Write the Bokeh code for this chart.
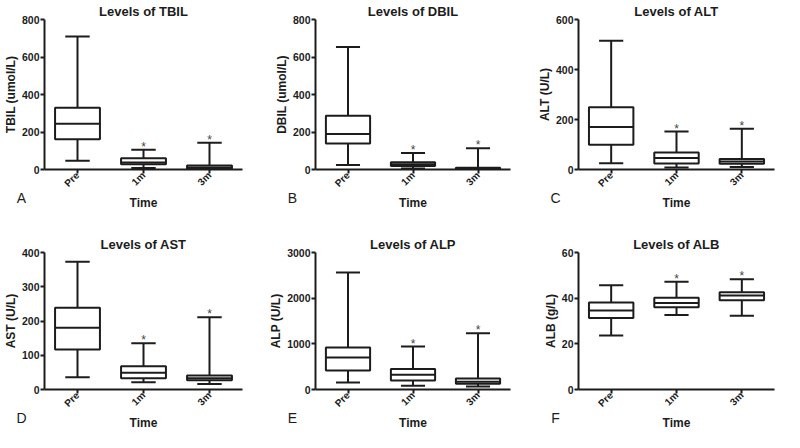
import math
from bokeh.plotting import figure
from bokeh.layouts import gridplot
from bokeh.models import FixedTicker, Label, ColumnDataSource, Range1d, FactorRange
from bokeh.transform import dodge
from bokeh.embed import file_html
from bokeh.resources import INLINE

# ---------------- data ----------------
categories = ["Pre", "1m", "3m"]
marks = ["", "*", "*"]

tbil_min = [47, 8, 1]
tbil_q1 = [161, 28, 4]
tbil_med = [244, 38, 11]
tbil_q3 = [330, 60, 22]
tbil_max = [710, 105, 143]
tbil_ticks = [0, 200, 400, 600, 800]

dbil_min = [24, 6, 2]
dbil_q1 = [139, 19, 3]
dbil_med = [190, 28, 6]
dbil_q3 = [287, 39, 10]
dbil_max = [653, 88, 113]
dbil_ticks = [0, 200, 400, 600, 800]

alt_min = [25, 8, 10]
alt_q1 = [99, 24, 23]
alt_med = [170, 46, 32]
alt_q3 = [249, 68, 42]
alt_max = [515, 152, 163]
alt_ticks = [0, 200, 400, 600]

ast_min = [36, 21, 16]
ast_q1 = [117, 33, 27]
ast_med = [180, 49, 33]
ast_q3 = [239, 68, 41]
ast_max = [373, 135, 211]
ast_ticks = [0, 100, 200, 300, 400]

alp_min = [155, 84, 63]
alp_q1 = [415, 197, 126]
alp_med = [703, 323, 169]
alp_q3 = [920, 450, 239]
alp_max = [2564, 941, 1230]
alp_ticks = [0, 1000, 2000, 3000]

alb_min = [23.7, 32.6, 32.3]
alb_q1 = [31.3, 36.0, 39.1]
alb_med = [34.6, 37.9, 41.2]
alb_q3 = [38.1, 40.2, 42.6]
alb_max = [45.7, 47.2, 48.3]
alb_ticks = [0, 20, 40, 60]

FONT = "Liberation Sans"
INK = "#1c1c1c"
BOX_W = 0.68
CAP_W = 0.37


def panel(title, ylabel, letter, lo, q1, med, q3, hi, yticks,
          width, height, left, right, top, bottom):
    p = figure(x_range=FactorRange(factors=categories, range_padding=0),
               y_range=Range1d(0, yticks[-1]),
               width=width, height=height, title=title,
               output_backend="svg", toolbar_location=None,
               min_border_left=left, min_border_right=right,
               min_border_top=top, min_border_bottom=bottom)
    p.outline_line_color = None
    p.xgrid.visible = False
    p.ygrid.visible = False
    p.background_fill_color = "white"
    p.border_fill_color = "white"

    p.title.align = "center"
    p.title.text_font = FONT
    p.title.text_font_size = "13px"
    p.title.text_font_style = "bold"
    p.title.text_color = INK
    p.title.standoff = 2

    for ax in (p.xaxis[0], p.yaxis[0]):
        ax.axis_line_width = 2
        ax.axis_line_color = INK
        ax.major_tick_line_width = 2
        ax.major_tick_line_color = INK
        ax.major_tick_out = 4
        ax.major_tick_in = 0
        ax.minor_tick_line_color = None
        ax.major_label_text_font = FONT
        ax.major_label_text_font_size = "10.5px"
        ax.major_label_text_font_style = "bold"
        ax.major_label_text_color = INK
        ax.major_label_standoff = 1
        ax.axis_label_text_font = FONT
        ax.axis_label_text_font_style = "bold"
        ax.axis_label_text_color = INK
        ax.axis_label_standoff = 1

    p.yaxis[0].ticker = FixedTicker(ticks=yticks)
    p.yaxis[0].axis_label = ylabel
    p.yaxis[0].axis_label_text_font_size = "12px"
    p.xaxis[0].axis_label = "Time"
    p.xaxis[0].axis_label_text_font_size = "12px"
    p.xaxis[0].axis_label_standoff = 0
    p.xaxis[0].major_label_standoff = 0
    p.xaxis[0].major_label_text_font_size = "10px"
    p.xaxis[0].major_label_orientation = math.pi / 4

    src = ColumnDataSource(dict(cat=categories, lo=lo, q1=q1, med=med,
                                q3=q3, hi=hi, sig=marks))
    lw = 2
    # whiskers
    p.segment(x0="cat", y0="lo", x1="cat", y1="q1", source=src,
              line_color=INK, line_width=lw)
    p.segment(x0="cat", y0="q3", x1="cat", y1="hi", source=src,
              line_color=INK, line_width=lw)
    # caps
    for fld in ("lo", "hi"):
        p.segment(x0=dodge("cat", -CAP_W / 2, range=p.x_range), y0=fld,
                  x1=dodge("cat", CAP_W / 2, range=p.x_range), y1=fld,
                  source=src, line_color=INK, line_width=lw)
    # box
    p.vbar(x="cat", bottom="q1", top="q3", width=BOX_W, source=src,
           fill_color="white", line_color=INK, line_width=lw)
    # median
    p.segment(x0=dodge("cat", -BOX_W / 2, range=p.x_range), y0="med",
              x1=dodge("cat", BOX_W / 2, range=p.x_range), y1="med",
              source=src, line_color=INK, line_width=lw)
    # significance marks
    p.text(x="cat", y="hi", text="sig", source=src, y_offset=-3,
           text_align="center", text_baseline="middle",
           text_font_size="12px", text_color="#444444")

    # panel letter: kept in the right side panel (so it is not clipped to the
    # frame) and anchored at the axes origin, shifted in pixels
    p.add_layout(Label(x=0, y=0, x_units="data", y_units="data",
                       x_offset=-23, y_offset=-28,
                       text=letter, text_font=FONT, text_font_size="14px",
                       text_align="center", text_baseline="middle",
                       text_color=INK), "right")
    return p


pa = panel("Levels of TBIL", "TBIL (umol/L)", "A", tbil_min, tbil_q1, tbil_med,
           tbil_q3, tbil_max, tbil_ticks, 266, 212, 36, 24, 18, 40)
pb = panel("Levels of DBIL", "DBIL (umol/L)", "B", dbil_min, dbil_q1, dbil_med,
           dbil_q3, dbil_max, dbil_ticks, 268, 212, 40, 24, 18, 40)
pc = panel("Levels of ALT", "ALT (U/L)", "C", alt_min, alt_q1, alt_med,
           alt_q3, alt_max, alt_ticks, 250, 212, 40, 2, 18, 40)
pd = panel("Levels of AST", "AST (U/L)", "D", ast_min, ast_q1, ast_med,
           ast_q3, ast_max, ast_ticks, 266, 220, 36, 24, 40, 40)
pe = panel("Levels of ALP", "ALP (U/L)", "E", alp_min, alp_q1, alp_med,
           alp_q3, alp_max, alp_ticks, 268, 220, 42, 24, 40, 40)
pf = panel("Levels of ALB", "ALB (g/L)", "F", alb_min, alb_q1, alb_med,
           alb_q3, alb_max, alb_ticks, 250, 220, 40, 2, 40, 40)

grid = gridplot([[pa, pb, pc], [pd, pe, pf]], toolbar_location=None)

open("out.html", "w").write(file_html(grid, INLINE))
